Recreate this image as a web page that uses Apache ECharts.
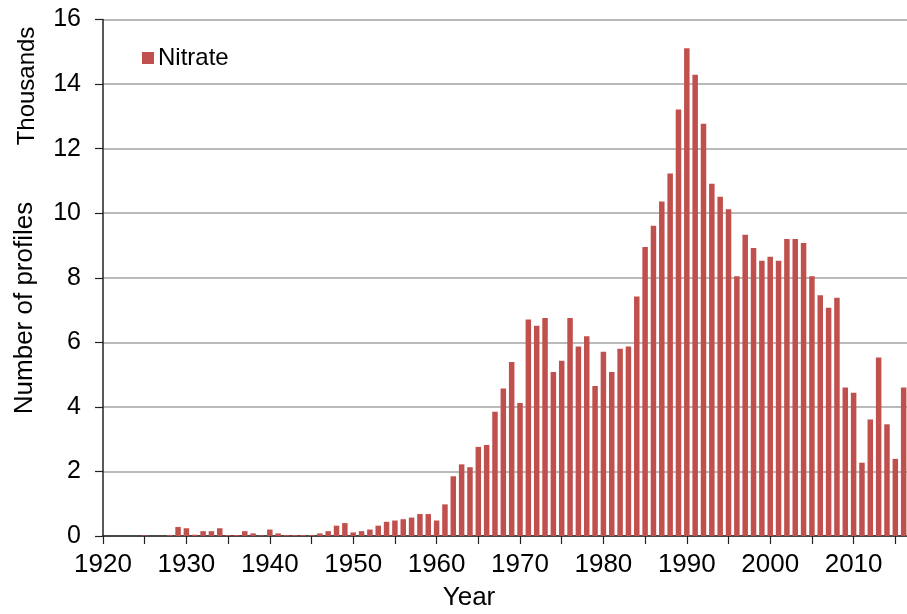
<!DOCTYPE html>
<html>
<head>
<meta charset="utf-8">
<title>Nitrate profiles per year</title>
<script src="https://cdn.jsdelivr.net/npm/echarts@6/dist/echarts.min.js"></script>
<style>
	html, body { margin: 0; padding: 0; background: #fff; }
	#chart { width: 907px; height: 614px; }
</style>
</head>
<body>
<div id="chart"></div>
<script>
// Number of nitrate profiles per year, in thousands
const firstYear = 1920;
const years = [];
for (let y = 1920; y <= 2016; y++) years.push(y);

const nitrate = [
	0, 0, 0, 0, 0, 0.02, 0, 0, 0.03, 0.28, // 1920-1929
	0.24, 0.04, 0.15, 0.15, 0.24, 0.03, 0.03, 0.15, 0.08, 0.02, // 1930-1939
	0.2, 0.08, 0.03, 0.03, 0.03, 0.03, 0.08, 0.15, 0.32, 0.4, // 1940-1949
	0.11, 0.15, 0.2, 0.32, 0.44, 0.48, 0.52, 0.57, 0.68, 0.68, // 1950-1959
	0.48, 0.98, 1.85, 2.22, 2.13, 2.76, 2.82, 3.85, 4.57, 5.39, // 1960-1969
	4.12, 6.71, 6.51, 6.75, 5.08, 5.43, 6.75, 5.87, 6.19, 4.65, // 1970-1979
	5.71, 5.08, 5.8, 5.87, 7.42, 8.95, 9.61, 10.36, 11.23, 13.21, // 1980-1989
	15.11, 14.29, 12.77, 10.91, 10.51, 10.12, 8.05, 9.33, 8.92, 8.53, // 1990-1999
	8.65, 8.53, 9.2, 9.2, 9.08, 8.05, 7.46, 7.07, 7.38, 4.6, // 2000-2009
	4.44, 2.27, 3.61, 5.53, 3.46, 2.39, 4.6, // 2010-2016
];

const yTicks = [0, 2, 4, 6, 8, 10, 12, 14, 16];

const font = "Liberation Sans, Arial, sans-serif";
const barColor = "#C0504D";

const chart = echarts.init(document.getElementById("chart"), null, { renderer: "canvas" });

chart.setOption({
	animation: false,
	backgroundColor: "#fff",
	textStyle: { fontFamily: font, color: "#000" },
	grid: { left: 103, right: 0, top: 19.5, bottom: 78, containLabel: false },
	legend: {
		left: 137,
		top: 41,
		itemWidth: 12,
		itemHeight: 12,
		itemGap: 5,
		icon: "rect",
		textStyle: { fontFamily: font, fontSize: 24, color: "#000", padding: [0, 0, 0, -1] },
		data: ["Nitrate"],
	},
	xAxis: {
		type: "value",
		min: firstYear,
		max: 2016.4,
		interval: 5,
		axisLine: { show: true, onZero: false, lineStyle: { color: "#222", width: 1.5 } },
		axisTick: { show: true, length: 8, lineStyle: { color: "#222", width: 1.2 } },
		splitLine: { show: false },
		axisLabel: {
			fontFamily: font,
			fontSize: 26,
			color: "#000",
			margin: 16,
			showMaxLabel: false,
			formatter: (v) => (v % 10 === 0 ? String(v) : ""),
		},
	},
	yAxis: {
		type: "value",
		min: yTicks[0],
		max: yTicks[yTicks.length - 1],
		interval: 2,
		axisLine: { show: true, lineStyle: { color: "#222", width: 1.5 } },
		axisTick: { show: true, length: 8, lineStyle: { color: "#222", width: 1.2 } },
		splitLine: { show: true, lineStyle: { color: "#a3a3a3", width: 1.5 } },
		axisLabel: { fontFamily: font, fontSize: 25, color: "#000", margin: 22 },
	},
	graphic: [
		{
			type: "text",
			x: 27,
			y: 86,
			rotation: Math.PI / 2,
			style: { text: "Thousands", font: "24px " + font, fill: "#000", textAlign: "center", textVerticalAlign: "middle" },
		},
		{
			type: "text",
			x: 25,
			y: 308,
			rotation: Math.PI / 2,
			style: { text: "Number of profiles", font: "26px " + font, fill: "#000", textAlign: "center", textVerticalAlign: "middle" },
		},
		{
			type: "text",
			x: 469,
			y: 598,
			style: { text: "Year", font: "26px " + font, fill: "#000", textAlign: "center", textVerticalAlign: "middle" },
		},
	],
	series: [
		{
			name: "Nitrate",
			type: "bar",
			barWidth: 5.5,
			itemStyle: { color: barColor },
			data: years.map((y, i) => [y, nitrate[i]]),
		},
	],
});
</script>
</body>
</html>
